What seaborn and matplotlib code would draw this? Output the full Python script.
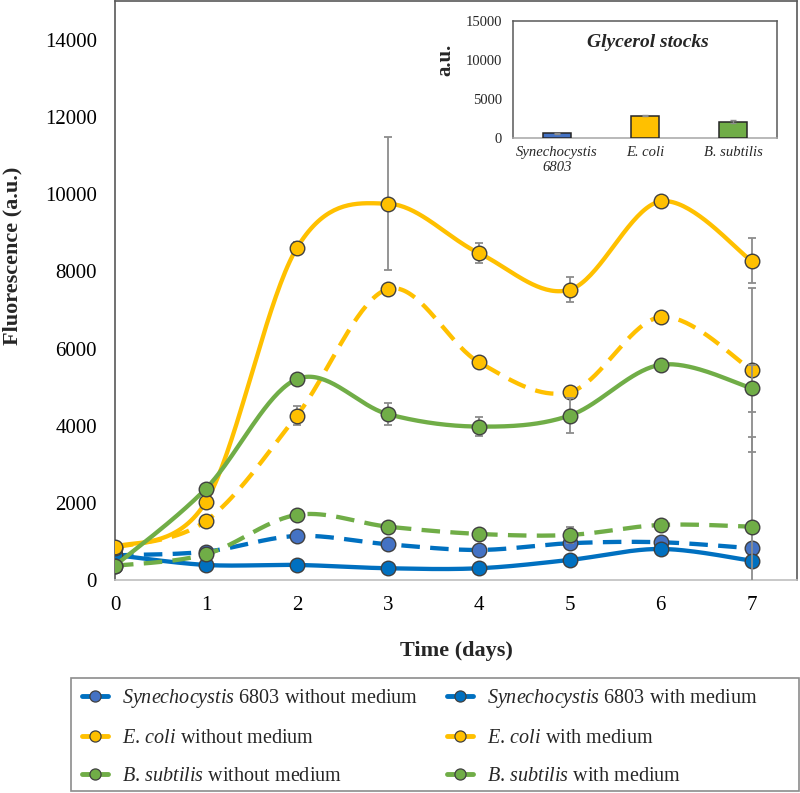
import numpy as np
import pandas as pd
import matplotlib
matplotlib.use("Agg")
import matplotlib.pyplot as plt
import seaborn as sns
from matplotlib.lines import Line2D
from matplotlib.patches import Rectangle

# ---------------- data ----------------
days = [0, 1, 2, 3, 4, 5, 6, 7]
syn_without = [650, 746, 1153, 938, 790, 964, 990, 834]
syn_with = [660, 402, 402, 316, 316, 531, 816, 513]
ecoli_without = [850, 1541, 4269, 7544, 5653, 4876, 6819, 5453]
ecoli_with = [860, 2041, 8606, 9754, 8477, 7526, 9813, 8277]
bsub_without = [380, 679, 1697, 1394, 1205, 1179, 1438, 1394]
bsub_with = [383, 2378, 5212, 4306, 3984, 4269, 5583, 4979]

err_syn_without = [0, 0, 0, 0, 0, 0, 0, 0]
err_syn_with = [0, 0, 0, 0, 0, 0, 0, 0]
err_ecoli_without = [0, 0, 250, 0, 0, 0, 0, 2120]
err_ecoli_with = [0, 0, 150, 1715, 250, 330, 0, 580]
err_bsub_without = [0, 0, 0, 0, 0, 200, 0, 2330]
err_bsub_with = [0, 0, 0, 280, 250, 460, 0, 610]

glycerol_labels = ["Synechocystis\n6803", "E. coli", "B. subtilis"]
glycerol_values = [560, 2810, 2040]
glycerol_err = [30, 80, 180]

yticks_main = [0, 2000, 4000, 6000, 8000, 10000, 12000, 14000]
yticks_inset = [0, 5000, 10000, 15000]

# ---------------- style ----------------
sns.set_style("white")
plt.rcParams["font.family"] = ["Liberation Serif", "DejaVu Serif"]
plt.rcParams["mathtext.fontset"] = "custom"
plt.rcParams["mathtext.rm"] = "Liberation Serif"
plt.rcParams["mathtext.it"] = "Liberation Serif:italic"
plt.rcParams["mathtext.bf"] = "Liberation Serif:bold"

BLUE_LINE = "#0070C0"
BLUE_LIGHT = "#4472C4"
YELLOW = "#FFC000"
GREEN = "#70AD47"
EDGE = "#404040"
ERR = "#8C8C8C"

series = [
    # name, values, errors, line colour, marker colour, dashed
    ("$\\mathit{Synechocystis}$ 6803 without medium", syn_without, err_syn_without, BLUE_LINE, BLUE_LIGHT, True),
    ("$\\mathit{Synechocystis}$ 6803 with medium", syn_with, err_syn_with, BLUE_LINE, BLUE_LINE, False),
    ("$\\mathit{E.\\,coli}$ without medium", ecoli_without, err_ecoli_without, YELLOW, YELLOW, True),
    ("$\\mathit{E.\\,coli}$ with medium", ecoli_with, err_ecoli_with, YELLOW, YELLOW, False),
    ("$\\mathit{B.\\,subtilis}$ without medium", bsub_without, err_bsub_without, GREEN, GREEN, True),
    ("$\\mathit{B.\\,subtilis}$ with medium", bsub_with, err_bsub_with, GREEN, GREEN, False),
]


def excel_smooth(x, y, n=40):
    """Bezier smoothing through the data points (Catmull-Rom style, like Excel's smoothed line)."""
    P = np.column_stack([np.asarray(x, float), np.asarray(y, float)])
    m = len(P)
    out = [P[0]]
    t = np.linspace(0, 1, n)[1:, None]
    for i in range(m - 1):
        p0 = P[i - 1] if i > 0 else P[i]
        p1 = P[i]
        p2 = P[i + 1]
        p3 = P[i + 2] if i + 2 < m else P[i + 1]
        c1 = p1 + (p2 - p0) / 6.0
        c2 = p2 - (p3 - p1) / 6.0
        seg = (1 - t) ** 3 * p1 + 3 * (1 - t) ** 2 * t * c1 + 3 * (1 - t) * t ** 2 * c2 + t ** 3 * p2
        out.extend(seg)
    out = np.array(out)
    return out[:, 0], out[:, 1]


fig = plt.figure(figsize=(8, 7.93), dpi=100)
ax = fig.add_axes([0.14375, 0.2680, 0.8525, 0.7307])

for i, (name, vals, errs, lc, mc, dashed) in enumerate(series):
    z = 3 + i
    xs, ys = excel_smooth(days, vals)
    sns.lineplot(x=xs, y=ys, ax=ax, color=lc, lw=3.1, sort=False, estimator=None, zorder=z)
    line = ax.lines[-1]
    line.set_solid_capstyle("butt")
    if dashed:
        line.set_dashes((4.3, 2.4))
        line.set_dash_capstyle("butt")
    if any(e > 0 for e in errs):
        ax.errorbar(days, vals, yerr=errs, fmt="none", ecolor=ERR, elinewidth=1.3,
                    capsize=3, capthick=1.3, zorder=z + 0.3)
    sns.scatterplot(x=days, y=vals, ax=ax, s=110, color=mc, edgecolor=EDGE,
                    linewidth=1.0, zorder=z + 0.5)

ax.set_xlim(0, 7.5)
ax.set_ylim(0, 15000)
ax.set_xticks(days)
ax.set_yticks(yticks_main)
ax.set_xticklabels([str(d) for d in days])
ax.set_yticklabels([str(v) for v in yticks_main])
ax.tick_params(axis="both", length=0, labelsize=15, colors="#000000")
ax.tick_params(axis="x", pad=11)
ax.tick_params(axis="y", pad=13)
for s in ["left", "top", "right"]:
    ax.spines[s].set_color("#595959")
    ax.spines[s].set_linewidth(1.2)
ax.spines["bottom"].set_color("#BFBFBF")
ax.spines["bottom"].set_linewidth(1.2)

ax.set_xlabel("Time (days)", fontsize=16, fontweight="bold", va="center")
ax.xaxis.set_label_coords(0.5, -0.1217)
ax.set_ylabel("Fluorescence (a.u.)", fontsize=16, fontweight="bold", va="center")
ax.yaxis.set_label_coords(-0.151, 0.56)

# ---------------- inset ----------------
iax = fig.add_axes([0.64125, 0.8264, 0.33, 0.1475])
gdf = pd.DataFrame({"species": glycerol_labels, "value": glycerol_values})
sns.barplot(data=gdf, x="species", y="value", hue="species",
            palette=[BLUE_LIGHT, YELLOW, GREEN], saturation=1, width=0.32, ax=iax,
            edgecolor="#262626", linewidth=1.1, legend=False, errorbar=None, zorder=3)
iax.errorbar(range(len(glycerol_values)), glycerol_values, yerr=glycerol_err, fmt="none",
             ecolor=ERR, elinewidth=1.0, capsize=2, capthick=1.0, zorder=4)
iax.set_xlim(-0.5, 2.5)
iax.set_ylim(0, 15000)
iax.set_yticks(yticks_inset)
iax.set_yticklabels([str(v) for v in yticks_inset])
iax.set_xlabel("")
iax.set_ylabel("a.u.", fontsize=15, fontweight="bold", va="center")
iax.yaxis.set_label_coords(-0.258, 0.664)
iax.tick_params(axis="both", length=0, labelsize=10.5)
iax.tick_params(axis="y", pad=8)
iax.tick_params(axis="x", pad=6)
for lab in iax.get_xticklabels():
    lab.set_fontstyle("italic")
    lab.set_fontsize(10.5)
for s in ["left", "top", "right"]:
    iax.spines[s].set_color("#595959")
    iax.spines[s].set_linewidth(1.1)
iax.spines["bottom"].set_color("#A6A6A6")
iax.spines["bottom"].set_linewidth(1.1)
iax.text(0.511, 0.81, "Glycerol stocks", transform=iax.transAxes, ha="center", va="center",
         fontsize=14, fontweight="bold", fontstyle="italic")

# ---------------- legend ----------------
fig.patches.append(Rectangle((0.08875, 0.0025), 0.91, 0.1425, transform=fig.transFigure,
                             facecolor="none", edgecolor="#8C8C8C", linewidth=1.2))
order = [0, 2, 4, 1, 3, 5]
handles = []
labels = []
for k in order:
    name, vals, errs, lc, mc, dashed = series[k]
    handles.append(Line2D([0], [0], color=lc, lw=3.5, marker="o", markersize=8,
                          markerfacecolor=mc, markeredgecolor=EDGE, markeredgewidth=0.9))
    labels.append(name)
fig.legend(handles, labels, loc="upper left", bbox_to_anchor=(0.1025, 1 - 687 / 793),
           bbox_transform=fig.transFigure, ncol=2, frameon=False, fontsize=14.5,
           handlelength=1.3, handletextpad=0.7, columnspacing=1.4, labelspacing=0.95,
           borderpad=0, borderaxespad=0)

fig.savefig("out.png", dpi=100)
